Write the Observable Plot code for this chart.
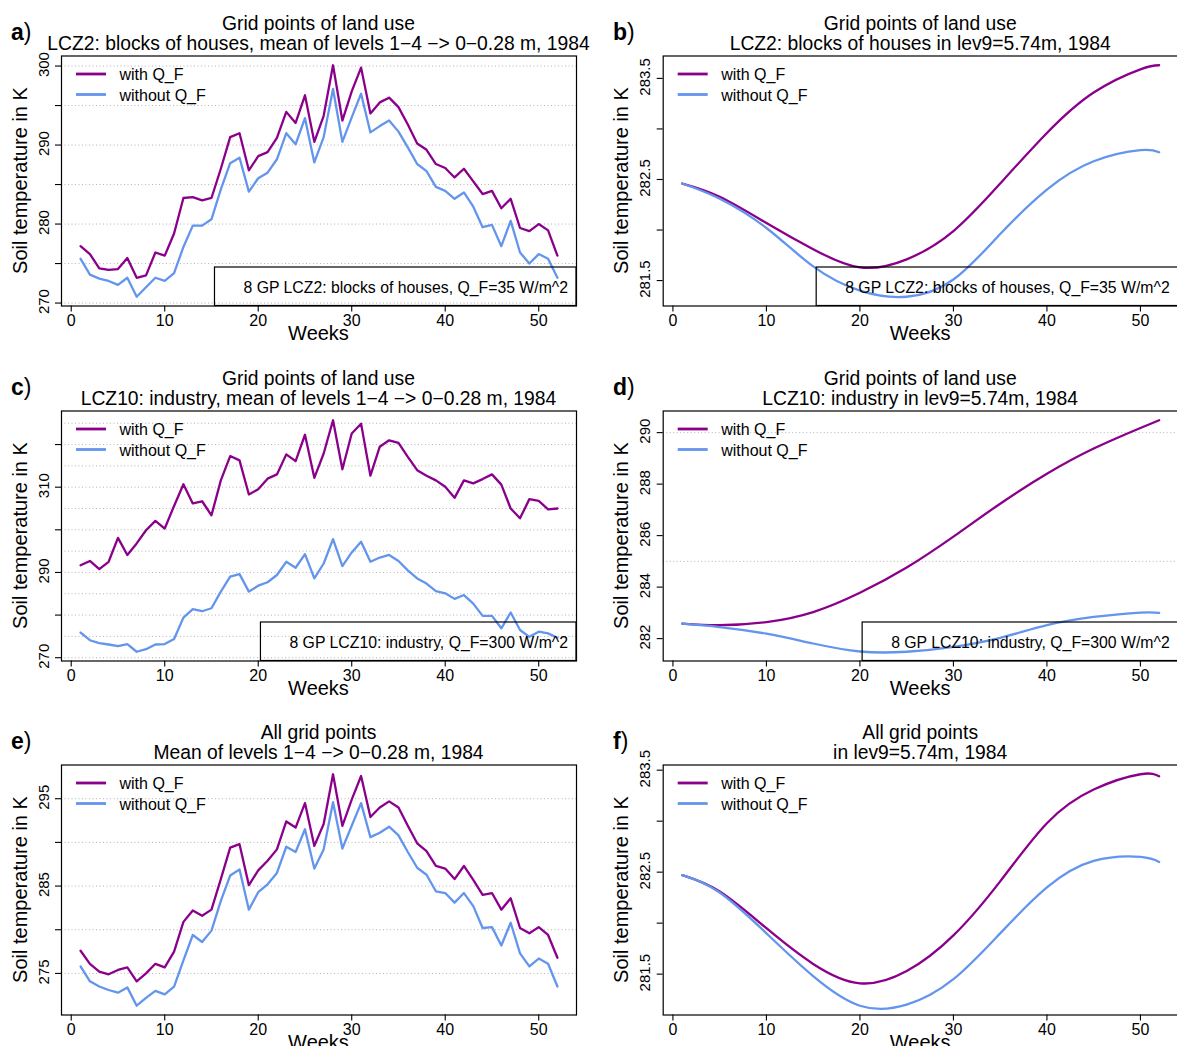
<!DOCTYPE html>
<html><head><meta charset="utf-8">
<script src="https://cdn.jsdelivr.net/npm/d3@7"></script>
<script src="https://cdn.jsdelivr.net/npm/@observablehq/plot@0.6"></script>
<style>
body{margin:0;background:#fff;}
#fig{position:relative;width:1177px;height:1046px;overflow:hidden;font-family:"Liberation Sans",Arial,Helvetica,sans-serif;}
#fig svg{position:absolute;overflow:visible;}
</style></head><body><div id="fig"></div>
<script>
// ---------- data ----------
const weeks = [1,2,3,4,5,6,7,8,9,10,11,12,13,14,15,16,17,18,19,20,21,22,23,24,25,26,
               27,28,29,30,31,32,33,34,35,36,37,38,39,40,41,42,43,44,45,46,47,48,49,50,51,52];
const smoothWeeks = [1,5,10,15,20,25,30,35,40,45,50,52];
const xTicks = [0,10,20,30,40,50];

// a) LCZ2, levels 1-4
const aWith = [277.2,276.2,274.4,274.2,274.3,275.7,273.2,273.5,276.4,276.0,278.8,283.3,283.4,283.0,283.3,287.0,
  291.0,291.5,286.8,288.6,289.1,290.9,294.2,292.8,296.3,290.4,293.7,300.1,293.1,296.8,299.8,294.0,295.4,296.0,
  294.8,292.6,290.2,289.4,287.6,287.1,285.9,287.0,285.4,283.8,284.2,282.0,283.2,279.5,279.1,280.0,279.2,276.0];
const aWithout = [275.6,273.6,273.1,272.8,272.3,273.2,270.8,272.0,273.2,272.8,273.8,277.1,279.8,279.8,280.6,284.4,
  287.7,288.4,284.1,285.8,286.5,288.2,291.5,290.1,293.4,287.8,291.0,297.1,290.4,293.5,296.5,291.6,292.4,293.1,
  291.7,289.7,287.6,286.7,284.7,284.2,283.2,284.0,282.2,279.6,279.9,277.2,280.4,276.4,275.0,276.2,275.6,273.2];
// b) LCZ2, lev9
const bWith    = [282.46,282.33,282.07,281.81,281.63,281.71,281.99,282.46,282.96,283.36,283.59,283.63];
const bWithout = [282.46,282.31,282.02,281.64,281.40,281.34,281.51,281.96,282.40,282.68,282.79,282.77];
// c) LCZ10, levels 1-4
const cWith = [291.7,292.7,290.8,292.5,298.1,294.1,296.8,299.9,302.1,300.3,305.6,310.7,306.2,306.7,303.4,311.6,
  317.3,316.3,308.3,309.5,312.0,313.0,317.7,316.1,322.3,312.2,317.9,325.7,314.2,322.6,324.9,312.7,319.5,321.0,
  320.4,317.1,314.0,312.7,311.6,310.1,307.5,311.6,310.9,311.9,313.0,310.6,305.0,302.7,307.2,306.8,304.8,305.0];
const cWithout = [275.9,274.1,273.4,273.1,272.7,273.2,271.4,272.0,273.1,273.2,274.4,279.4,281.4,280.9,281.6,285.5,
  289.0,289.6,285.5,286.9,287.7,289.4,292.5,291.1,294.3,288.6,292.1,297.8,291.5,294.7,297.2,292.5,293.5,294.1,
  292.7,290.5,288.6,287.4,285.6,285.1,283.8,284.7,282.7,279.8,279.8,276.9,280.6,276.5,274.9,276.1,275.7,274.7];
// d) LCZ10, lev9
const dWith    = [282.58,282.52,282.64,283.03,283.78,284.76,285.96,287.24,288.40,289.38,290.18,290.48];
const dWithout = [282.58,282.45,282.19,281.81,281.50,281.49,281.68,282.03,282.52,282.84,283.01,283.00];
// e) all grid points, levels 1-4
const eWith = [277.6,276.1,275.2,274.9,275.4,275.7,274.1,275.0,276.1,275.7,277.5,280.9,282.2,281.6,282.3,285.8,
  289.4,289.8,285.1,286.8,287.9,289.2,292.4,291.7,294.5,289.6,292.1,297.8,291.9,294.9,297.6,292.9,294.0,294.7,
  294.0,291.9,289.9,289.0,287.3,287.0,285.8,287.3,285.7,284.0,284.2,282.3,283.6,280.2,279.6,280.3,279.4,276.8];
const eWithout = [275.8,274.1,273.5,273.1,272.8,273.4,271.3,272.2,273.0,272.6,273.5,276.5,279.4,278.6,279.9,283.3,
  286.2,286.9,282.3,284.3,285.2,286.5,289.5,288.9,291.5,287.0,289.2,294.6,289.3,291.9,294.5,290.6,291.1,291.8,
  290.8,288.9,287.1,286.3,284.4,284.2,283.1,284.2,282.7,280.2,280.3,278.2,280.8,277.3,275.8,276.7,276.1,273.5];
// f) all grid points, lev9
const fWith    = [282.47,282.31,281.95,281.60,281.41,281.53,281.88,282.41,282.98,283.31,283.46,283.44];
const fWithout = [282.47,282.30,281.90,281.48,281.19,281.20,281.45,281.90,282.35,282.61,282.65,282.60];

// axis ticks, labels and dotted reference lines
const aTicks = [270,275,280,285,290,295,300], aLabels = [270,280,290,300], aGrid = [270,275,280,285,290,295,300];
const bTicks = [281.5,282,282.5,283,283.5], bLabels = [281.5,282.5,283.5], bGrid = [];
const cTicks = [270,280,290,300,310,320], cLabels = [270,290,310],
      cGrid = [270,275,280,285,290,295,300,305,310,315,320,325];
const dTicks = [282,284,286,288,290], dLabels = [282,284,286,288,290], dGrid = [285,290];
const eTicks = [275,280,285,290,295], eLabels = [275,285,295], eGrid = [275,280,285,290,295];
const fTicks = [281.5,282,282.5,283,283.5], fLabels = [281.5,282.5,283.5], fGrid = [];

const seriesNames = ["with Q_F","without Q_F"];
const seriesColors = ["#8B008B","#6495ED"];

const panels = [
  {letter:"a", col:0,row:0, t1:"Grid points of land use", t2:"LCZ2: blocks of houses, mean of levels 1\u22124 \u2212> 0\u22120.28 m, 1984",
   wk:weeks, w:aWith, wo:aWithout, ticks:aTicks, labels:aLabels, grid:aGrid, smooth:false,
   note:"8 GP LCZ2: blocks of houses, Q_F=35 W/m^2"},
  {letter:"b", col:1,row:0, t1:"Grid points of land use", t2:"LCZ2: blocks of houses in lev9=5.74m, 1984",
   wk:smoothWeeks, w:bWith, wo:bWithout, ticks:bTicks, labels:bLabels, grid:bGrid, smooth:true,
   note:"8 GP LCZ2: blocks of houses, Q_F=35 W/m^2"},
  {letter:"c", col:0,row:1, t1:"Grid points of land use", t2:"LCZ10: industry, mean of levels 1\u22124 \u2212> 0\u22120.28 m, 1984",
   wk:weeks, w:cWith, wo:cWithout, ticks:cTicks, labels:cLabels, grid:cGrid, smooth:false,
   note:"8 GP LCZ10: industry, Q_F=300 W/m^2"},
  {letter:"d", col:1,row:1, t1:"Grid points of land use", t2:"LCZ10: industry in lev9=5.74m, 1984",
   wk:smoothWeeks, w:dWith, wo:dWithout, ticks:dTicks, labels:dLabels, grid:dGrid, smooth:true,
   note:"8 GP LCZ10: industry, Q_F=300 W/m^2"},
  {letter:"e", col:0,row:2, t1:"All grid points", t2:"Mean of levels 1\u22124 \u2212> 0\u22120.28 m, 1984",
   wk:weeks, w:eWith, wo:eWithout, ticks:eTicks, labels:eLabels, grid:eGrid, smooth:false, note:null},
  {letter:"f", col:1,row:2, t1:"All grid points", t2:"in lev9=5.74m, 1984",
   wk:smoothWeeks, w:fWith, wo:fWithout, ticks:fTicks, labels:fLabels, grid:fGrid, smooth:true, note:null}
];

// ---------- layout ----------
const FONT = '"Liberation Sans",Arial,Helvetica,sans-serif';
const W = 588, H = 354, BOXW = 515, BOXH = 250, MT = 55.5;
const colX = [0, 590], colML = [61, 72.7], rowY = [0, 354.5, 708.5];
const fig = document.getElementById("fig");

for (const p of panels) {
  const ml = colML[p.col], mr = W - ml - BOXW;
  const withData = p.wk.map((k,i)=>({week:k, temp:p.w[i]}));
  const withoutData = p.wk.map((k,i)=>({week:k, temp:p.wo[i]}));
  const [lo, hi] = d3.extent([...p.w, ...p.wo]);
  const pad = (hi - lo) * 0.04;
  const curve = p.smooth ? "natural" : "linear";
  const svg = Plot.plot({
    width: W, height: H,
    marginLeft: ml, marginRight: mr, marginTop: MT, marginBottom: H - MT - BOXH,
    style: {fontFamily: FONT, fontSize: "16px", background: "transparent", color: "black", overflow: "visible"},
    x: {domain: [1 - 0.04*51, 52 + 0.04*51]},
    y: {domain: [lo - pad, hi + pad]},
    marks: [
      Plot.ruleY(p.grid, {stroke: "#b4b4b4", strokeWidth: 1, strokeDasharray: "1,2.5"}),
      Plot.line(withData, {x:"week", y:"temp", stroke: seriesColors[0], strokeWidth: 2.3, curve}),
      Plot.line(withoutData, {x:"week", y:"temp", stroke: seriesColors[1], strokeWidth: 2.3, curve}),
      Plot.frame({stroke: "black", strokeWidth: 1.2}),
      Plot.axisX({ticks: xTicks, tickSize: 6, tickPadding: 2.5, label: null, fontSize: 16, stroke: "black", strokeWidth: 1.1}),
      Plot.axisY({ticks: p.ticks, tickSize: 6, tickFormat: () => "", label: null, stroke: "black", strokeWidth: 1.1}),
      Plot.text(p.labels, {y: d => d, frameAnchor: "left", dx: -13, dy: -1.5, rotate: -90, text: d => String(d),
                           textAnchor: "middle", lineAnchor: "bottom", fontSize: 15})
    ]
  });
  svg.style.left = colX[p.col] + "px";
  svg.style.top = rowY[p.row] + "px";
  fig.appendChild(svg);

  const s = d3.select(svg);
  const cx = ml + BOXW/2, boxBottom = MT + BOXH, boxRight = ml + BOXW;
  const g = s.append("g").attr("font-family", FONT).attr("fill", "black").attr("text-anchor", "start");
  // panel letter
  const lt = g.append("text").attr("x", p.col ? 23 : 11).attr("y", MT - 15.5).attr("font-size", 23);
  lt.append("tspan").attr("font-weight", "bold").text(p.letter);
  lt.append("tspan").text(")");
  // titles
  g.append("text").attr("x", cx).attr("y", MT - 25.5).attr("text-anchor", "middle").attr("font-size", 19.3).text(p.t1);
  g.append("text").attr("x", cx).attr("y", MT - 5.5).attr("text-anchor", "middle").attr("font-size", 19.3).text(p.t2);
  // axis titles
  g.append("text").attr("x", cx).attr("y", boxBottom + 34).attr("text-anchor", "middle").attr("font-size", 20).text("Weeks");
  g.append("text").attr("transform", `translate(${ml - 34.3},${MT + BOXH/2}) rotate(-90)`)
    .attr("text-anchor", "middle").attr("font-size", 20).text("Soil temperature in K");
  // legend
  seriesNames.forEach((name, i) => {
    const y = MT + 18.5 + i * 20.5;
    g.append("line").attr("x1", ml + 15).attr("x2", ml + 45).attr("y1", y).attr("y2", y)
      .attr("stroke", seriesColors[i]).attr("stroke-width", 2.8);
    g.append("text").attr("x", ml + 58.5).attr("y", y + 6).attr("font-size", 16).text(name);
  });
  // note box
  if (p.note) {
    const t = g.append("text").attr("x", boxRight - 8).attr("y", boxBottom - 13).attr("text-anchor", "end")
      .attr("font-size", 15.8).text(p.note);
    const tw = t.node().getComputedTextLength();
    const left = boxRight - 8 - tw - 29;
    g.insert("rect", "text").attr("x", left).attr("y", boxBottom - 38.5).attr("width", boxRight - left)
      .attr("height", 38.5).attr("fill", "none").attr("stroke", "black").attr("stroke-width", 1.2);
  }
}
</script></body></html>
